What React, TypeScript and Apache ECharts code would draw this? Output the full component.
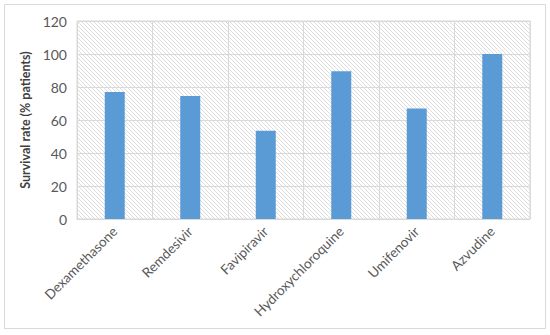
import React, { useEffect, useRef } from "react";
import * as echarts from "echarts";

const categories = ["Dexamethasone", "Remdesivir", "Favipiravir", "Hydroxychloroquine", "Umifenovir", "Azvudine"];
const survival = [77, 74.5, 53.5, 89.5, 67, 100];
const yTicks = { min: 0, max: 120, interval: 20 };
const yTitle = "Survival rate (% patients)";

function hatchPattern(): string {
  const n = 4;
  const c = document.createElement("canvas");
  c.width = n;
  c.height = n;
  const ctx = c.getContext("2d")!;
  ctx.fillStyle = "#ffffff";
  ctx.fillRect(0, 0, n, n);
  ctx.fillStyle = "#dcdcdc";
  for (let i = 0; i < n; i++) ctx.fillRect(i, i, 1, 1);
  return c.toDataURL();
}

export default function App() {
  const ref = useRef<HTMLDivElement>(null);
  useEffect(() => {
    document.body.style.margin = "0";
    const chart = echarts.init(ref.current!, null, { renderer: "svg" });
    const font = "Lato, 'Liberation Sans', sans-serif";
    chart.setOption({
      animation: false,
      backgroundColor: "#ffffff",
      textStyle: { fontFamily: font },
      graphic: [
        {
          type: "rect",
          shape: { x: 4.5, y: 4.5, width: 541, height: 324 },
          style: { fill: "none", stroke: "#d9d9d9", lineWidth: 1 },
          silent: true,
        },
      ],
      grid: {
        left: 77,
        right: 20,
        top: 21,
        bottom: 116,
        show: true,
        backgroundColor: { image: hatchPattern(), repeat: "repeat" },
        borderColor: "#d9d9d9",
        borderWidth: 1,
      },
      xAxis: {
        type: "category",
        data: categories,
        boundaryGap: true,
        axisLine: { show: true, lineStyle: { color: "#d9d9d9" } },
        axisTick: { show: false },
        splitLine: { show: true, lineStyle: { color: "#d9d9d9", width: 1 } },
        axisLabel: {
          rotate: 45,
          color: "#595959",
          fontSize: 13.5,
          fontFamily: font,
          margin: 10,
          interval: 0,
        },
      },
      yAxis: {
        type: "value",
        min: yTicks.min,
        max: yTicks.max,
        interval: yTicks.interval,
        name: yTitle,
        nameLocation: "middle",
        nameGap: 37,
        nameTextStyle: { color: "#404040", fontSize: 12.5, fontWeight: "bold", fontFamily: font },
        axisLine: { show: false },
        axisTick: { show: false },
        splitLine: { show: true, lineStyle: { color: "#d9d9d9", width: 1 } },
        axisLabel: { color: "#595959", fontSize: 14, margin: 10, fontFamily: font },
      },
      series: [
        {
          type: "bar",
          data: survival,
          barWidth: 20,
          itemStyle: { color: "#5b9bd5" },
        },
      ],
    });
    return () => chart.dispose();
  }, []);
  return <div ref={ref} style={{ width: 550, height: 335 }} />;
}
